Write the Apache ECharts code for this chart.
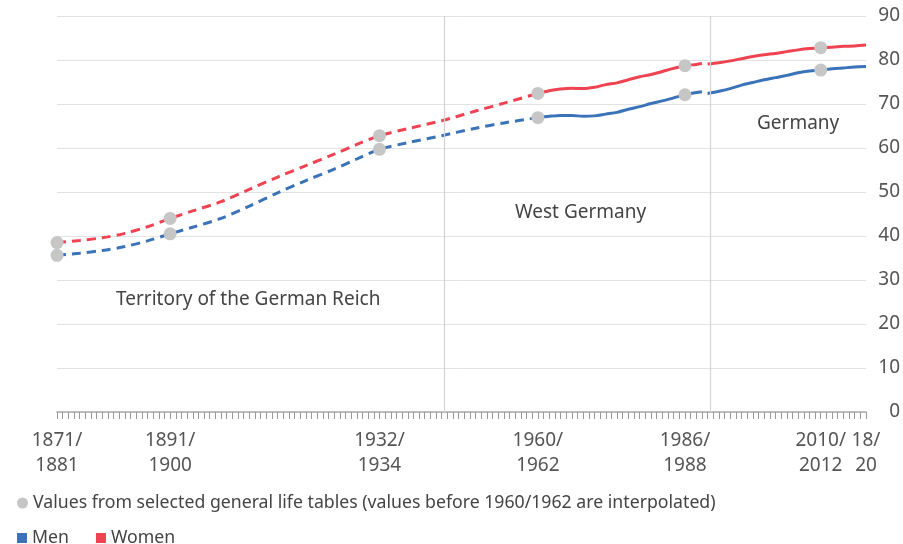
<!DOCTYPE html>
<html>
<head>
<meta charset="utf-8">
<script src="https://cdn.jsdelivr.net/npm/echarts@6/dist/echarts.min.js"></script>
<style>
  html, body { margin: 0; padding: 0; background: #fff; }
  #container { width: 903px; height: 544px; }
</style>
</head>
<body>
<div id="container"></div>
<script>
const dom = document.getElementById("container");
const myChart = echarts.init(dom);

// x positions are mid-years of the life table periods
const tickLabels = {
  1876: '1871/\n1881',
  1896: '1891/\n1900',
  1933: '1932/\n1934',
  1961: '1960/\n1962',
  1987: '1986/\n1988',
  2011: '2010/\n2012',
  2019: '18/\n20'
}

// interpolated values (dashed)
const womenInterp = [
  [1876, 38.5], [1880, 39.0], [1884, 39.6], [1888, 40.6], [1892, 42.1], [1896, 44.0],
  [1900, 45.7], [1905, 47.8], [1910, 50.6], [1915, 53.4], [1920, 56.0], [1925, 58.6],
  [1929, 60.8], [1933, 62.8], [1938, 64.4], [1944, 66.2], [1950, 68.4], [1955, 70.2], [1961, 72.4]
]
const menInterp = [
  [1876, 35.6], [1880, 36.1], [1884, 36.7], [1888, 37.6], [1892, 38.9], [1896, 40.5],
  [1900, 42.0], [1905, 44.0], [1910, 46.8], [1915, 49.8], [1920, 52.6], [1925, 55.2],
  [1929, 57.5], [1933, 59.7], [1938, 61.2], [1944, 62.8], [1950, 64.5], [1955, 65.7], [1961, 66.9]
]

// West Germany
const womenWest = [
  [1961, 72.4], [1963, 73.0], [1965, 73.4], [1967, 73.6], [1969, 73.5], [1971, 73.8],
  [1973, 74.4], [1975, 74.8], [1977, 75.5], [1979, 76.2], [1981, 76.7], [1983, 77.4],
  [1985, 78.1], [1987, 78.7], [1989, 79.0], [1990, 79.2]
]
const menWest = [
  [1961, 66.9], [1963, 67.2], [1965, 67.4], [1967, 67.4], [1969, 67.2], [1971, 67.3],
  [1973, 67.7], [1975, 68.1], [1977, 68.8], [1979, 69.4], [1981, 70.1], [1983, 70.7],
  [1985, 71.4], [1987, 72.1], [1989, 72.6], [1990, 72.8]
]

// Germany
const womenGermany = [
  [1991, 79.1], [1993, 79.4], [1995, 79.8], [1997, 80.3], [1999, 80.8], [2001, 81.2],
  [2003, 81.5], [2005, 81.9], [2007, 82.3], [2009, 82.6], [2011, 82.8], [2013, 82.9],
  [2015, 83.1], [2017, 83.2], [2019, 83.4]
]
const menGermany = [
  [1991, 72.4], [1993, 72.9], [1995, 73.5], [1997, 74.3], [1999, 74.9], [2001, 75.5],
  [2003, 76.0], [2005, 76.5], [2007, 77.1], [2009, 77.5], [2011, 77.7], [2013, 78.0],
  [2015, 78.2], [2017, 78.4], [2019, 78.5]
]

// values from selected general life tables
const tableYears = [1876, 1896, 1933, 1961, 1987, 2011]
const tableWomen = [38.5, 44.0, 62.8, 72.4, 78.7, 82.8]
const tableMen = [35.6, 40.5, 59.7, 66.9, 72.1, 77.7]

const territoryBreaks = [1944.5, 1991.4]

const BLUE = '#3b73b9'
const RED = '#ef4352'
const GREY = '#c6c6c6'
const FONT = 'Noto Sans'
const pointsName = 'Values from selected general life tables (values before 1960/1962 are interpolated)'

const lineSeries = (name, data, color, dashed) => ({
  name: name,
  type: 'line',
  data: data,
  showSymbol: false,
  smooth: 0.3,
  itemStyle: { color: color },
  lineStyle: { color: color, width: 3, type: dashed ? [9, 6] : 'solid' },
  z: 3
})

const points = tableYears.map((y, i) => [y, tableWomen[i]])
  .concat(tableYears.map((y, i) => [y, tableMen[i]]))

const option = {
  animation: false,
  textStyle: { fontFamily: FONT },
  grid: { left: 57, right: 35, top: 16, bottom: 132 },
  legend: [{
    data: [pointsName],
    left: 12, top: 489,
    icon: 'circle',
    itemWidth: 11, itemHeight: 11,
    textStyle: { fontFamily: FONT, fontSize: 17.7, color: '#444' }
  }, {
    data: ['Men', 'Women'],
    left: 12, top: 524,
    icon: 'rect',
    itemWidth: 10, itemHeight: 10,
    itemGap: 27,
    textStyle: { fontFamily: FONT, fontSize: 17.7, color: '#444' }
  }],
  xAxis: {
    type: 'value',
    min: 1876, max: 2019, interval: 1,
    axisLine: { lineStyle: { color: '#aaa', width: 1.5 } },
    axisTick: { show: true, length: 7, lineStyle: { color: '#999' } },
    splitLine: { show: false },
    axisLabel: {
      margin: 16,
      fontSize: 19,
      lineHeight: 25,
      color: '#555',
      fontFamily: FONT,
      formatter: v => tickLabels[v] || ''
    }
  },
  yAxis: {
    type: 'value',
    position: 'right',
    min: 0, max: 90, interval: 10,
    axisLine: { show: false },
    axisTick: { show: false },
    splitLine: { lineStyle: { color: '#e2e2e2', width: 1 } },
    axisLabel: { fontSize: 19, color: '#555', fontFamily: FONT, align: 'right', margin: 34 }
  },
  graphic: [
    { type: 'text', left: 116, top: 290, style: { text: 'Territory of the German Reich', font: '19px "Noto Sans"', fill: '#444' } },
    { type: 'text', left: 515, top: 203, style: { text: 'West Germany', font: '19px "Noto Sans"', fill: '#444' } },
    { type: 'text', left: 757, top: 114, style: { text: 'Germany', font: '19px "Noto Sans"', fill: '#444' } }
  ],
  series: [
    {
      name: 'breaks',
      type: 'line',
      data: [],
      markLine: {
        silent: true,
        symbol: 'none',
        label: { show: false },
        lineStyle: { color: '#d4d4d4', width: 1.2, type: 'solid' },
        data: territoryBreaks.map(x => ({ xAxis: x }))
      }
    },
    lineSeries('Men', menInterp, BLUE, true),
    lineSeries('Women', womenInterp, RED, true),
    lineSeries('Men', menWest, BLUE, false),
    lineSeries('Women', womenWest, RED, false),
    lineSeries('Men', menGermany, BLUE, false),
    lineSeries('Women', womenGermany, RED, false),
    {
      name: pointsName,
      type: 'scatter',
      data: points,
      symbolSize: 13,
      itemStyle: { color: GREY, opacity: 1 },
      z: 5
    }
  ]
};

myChart.setOption(option);
</script>
</body>
</html>
